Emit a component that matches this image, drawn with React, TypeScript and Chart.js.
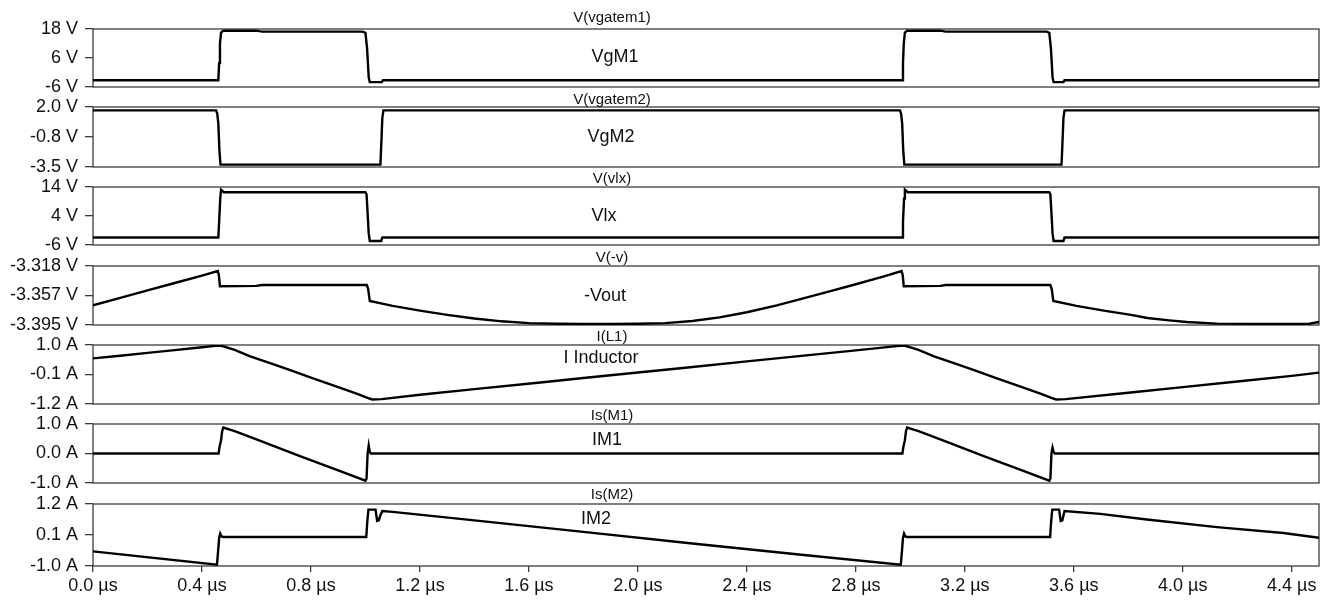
import React, { useEffect, useRef } from 'react';
import { Chart, registerables } from 'chart.js';

Chart.register(...registerables);

const FONT = '"Liberation Sans", Arial, Helvetica, sans-serif';

// ---------- data (time in µs) ----------
const vgM1Time = [0, 0.46, 0.463, 0.466, 0.47, 0.478, 0.6, 0.62, 0.99, 1.0, 1.006, 1.012, 1.016, 1.06, 1.064,
  2.97, 2.973, 2.976, 2.98, 2.988, 3.11, 3.13, 3.5, 3.51, 3.516, 3.522, 3.526, 3.562, 3.566, 4.5];
const vgM1Value = [-3.2, -3.2, 4, 12, 16.5, 17.3, 17.3, 16.9, 16.9, 16.4, 10, -2, -4.0, -4.0, -3.2,
  -3.2, 4, 12, 16.5, 17.3, 17.3, 16.9, 16.9, 16.4, 10, -2, -4.0, -4.0, -3.2, -3.2];

const vgM2Time = [0, 0.452, 0.456, 0.46, 0.464, 0.468, 1.055, 1.058, 1.062, 1.066,
  2.962, 2.966, 2.97, 2.974, 2.978, 3.555, 3.558, 3.562, 3.566, 4.5];
const vgM2Value = [1.69, 1.69, 1.4, 0.5, -2.0, -3.28, -3.28, -1.5, 1.0, 1.69,
  1.69, 1.4, 0.5, -2.0, -3.28, -3.28, -1.5, 1.0, 1.69, 1.69];

const vlxTime = [0, 0.46, 0.463, 0.467, 0.47, 0.476, 0.48, 1.0, 1.004, 1.008, 1.012, 1.016, 1.058, 1.062,
  2.97, 2.973, 2.977, 2.98, 2.986, 2.99, 3.51, 3.514, 3.518, 3.522, 3.526, 3.562, 3.566, 4.5];
const vlxValue = [-3.4, -3.4, 2, 10, 13.1, 12.6, 12.2, 12.2, 11.5, 5, -2, -4.6, -4.6, -3.4,
  -3.4, 2, 10, 13.1, 12.6, 12.2, 12.2, 11.5, 5, -2, -4.6, -4.6, -3.4, -3.4];

const voutTime = [0, 0.1, 0.2, 0.3, 0.4, 0.458, 0.462, 0.466, 0.6, 0.62, 1.005, 1.01, 1.016,
  1.1, 1.2, 1.3, 1.4, 1.5, 1.6, 1.7, 1.8, 1.9, 2.0, 2.1, 2.2, 2.3, 2.4, 2.51, 2.6, 2.7, 2.8, 2.9, 2.968,
  2.972, 2.976, 3.11, 3.13, 3.514, 3.519, 3.525, 3.61, 3.71, 3.81, 3.87, 3.95, 4.015, 4.125, 4.3, 4.465, 4.5];
const voutValue = [-3.3693, -3.3596, -3.3499, -3.3402, -3.3305, -3.3245, -3.33, -3.3445, -3.344, -3.3428, -3.3428, -3.348, -3.3637,
  -3.37, -3.3762, -3.3818, -3.3866, -3.3902, -3.3926, -3.3934, -3.3935, -3.3935, -3.3933, -3.3926, -3.3897, -3.385, -3.3784, -3.3693, -3.361, -3.3515, -3.3418, -3.3318, -3.3245,
  -3.33, -3.3445, -3.344, -3.3428, -3.3428, -3.348, -3.3637, -3.37, -3.3762, -3.3818, -3.3859, -3.389, -3.3911, -3.3932, -3.3935, -3.3933, -3.3911];

const iLTime = [0, 0.1, 0.2, 0.3, 0.4, 0.458, 0.475, 0.52, 0.577, 0.65, 0.724, 0.8, 0.9, 0.97, 1.01, 1.025, 1.06,
  1.2, 1.4, 1.642, 1.8, 2.0, 2.156, 2.4, 2.6, 2.8, 2.968, 2.985, 3.03, 3.087, 3.16, 3.234, 3.31, 3.41, 3.48, 3.52, 3.535, 3.57,
  3.8, 4.0, 4.2, 4.4, 4.5];
const iLValue = [0.5, 0.6, 0.705, 0.81, 0.915, 0.975, 0.96, 0.82, 0.58, 0.32, 0.06, -0.22, -0.57, -0.82, -0.98, -1.03, -1.02,
  -0.854, -0.647, -0.397, -0.233, -0.026, 0.135, 0.388, 0.595, 0.8, 0.975, 0.96, 0.82, 0.58, 0.32, 0.06, -0.22, -0.57, -0.82, -0.98, -1.03, -1.02,
  -0.78, -0.57, -0.36, -0.15, -0.03];

const iM1Time = [0, 0.461, 0.464, 0.47, 0.474, 0.478, 0.52, 0.6, 0.762, 0.9, 1.0, 1.004, 1.008, 1.012, 1.016, 1.02,
  2.971, 2.974, 2.98, 2.984, 2.988, 3.03, 3.11, 3.272, 3.41, 3.51, 3.514, 3.518, 3.522, 3.526, 3.53, 4.5];
const iM1Value = [0, 0, 0.2, 0.45, 0.75, 0.88, 0.76, 0.48, -0.1, -0.57, -0.92, -0.85, 0.0, 0.27, 0.05, 0,
  0, 0.2, 0.45, 0.75, 0.88, 0.76, 0.48, -0.1, -0.57, -0.92, -0.85, 0.0, 0.2, 0.05, 0, 0];

const iM2Time = [0, 0.455, 0.459, 0.463, 0.467, 0.472, 0.478, 1.003, 1.007, 1.011, 1.037, 1.043, 1.049, 1.055, 1.062,
  1.1, 1.4, 1.8, 2.2, 2.6, 2.965, 2.969, 2.973, 2.977, 2.982, 2.988, 3.513, 3.517, 3.521, 3.546, 3.552, 3.558, 3.566,
  3.697, 3.868, 4.125, 4.369, 4.5];
const iM2Value = [-0.48, -0.95, -0.5, 0.0, 0.15, 0.05, 0.03, 0.03, 0.6, 1.0, 1.0, 0.6, 0.62, 0.8, 0.95,
  0.92, 0.62, 0.21, -0.2, -0.6, -0.95, -0.5, 0.0, 0.15, 0.05, 0.03, 0.03, 0.6, 1.0, 1.0, 0.6, 0.62, 0.95,
  0.85, 0.65, 0.38, 0.17, 0.0];

const panelTitles = ['V(vgatem1)', 'V(vgatem2)', 'V(vlx)', 'V(-v)', 'I(L1)', 'Is(M1)', 'Is(M2)'];
const panelLabels = ['VgM1', 'VgM2', 'Vlx', '-Vout', 'I Inductor', 'IM1', 'IM2'];
const yMaxValues = [18, 2.0, 14, -3.318, 1.0, 1.0, 1.2];
const yMinValues = [-6, -3.5, -6, -3.395, -1.2, -1.0, -1.0];
const yTickLabels = [
  ['18 V', '6 V', '-6 V'],
  ['2.0 V', '-0.8 V', '-3.5 V'],
  ['14 V', '4 V', '-6 V'],
  ['-3.318 V', '-3.357 V', '-3.395 V'],
  ['1.0 A', '-0.1 A', '-1.2 A'],
  ['1.0 A', '0.0 A', '-1.0 A'],
  ['1.2 A', '0.1 A', '-1.0 A'],
];
const xTickValues = [0, 0.4, 0.8, 1.2, 1.6, 2.0, 2.4, 2.8, 3.2, 3.6, 4.0, 4.4];
const xTickLabels = ['0.0 µs', '0.4 µs', '0.8 µs', '1.2 µs', '1.6 µs', '2.0 µs', '2.4 µs', '2.8 µs', '3.2 µs', '3.6 µs', '4.0 µs', '4.4 µs'];

const seriesTimes = [vgM1Time, vgM2Time, vlxTime, voutTime, iLTime, iM1Time, iM2Time];
const seriesValues = [vgM1Value, vgM2Value, vlxValue, voutValue, iLValue, iM1Value, iM2Value];

// ---------- layout (page pixels) ----------
const PAGE_W = 1329;
const PLOT_LEFT = 93;
const PLOT_RIGHT = 1319;
const panelTop = [29, 107, 187, 266, 345, 424, 504];
const panelBottom = [87, 167, 245, 325, 404, 483, 566];
const titleX = 612;
const titleY = [17.5, 100, 178.5, 257.5, 336.5, 416, 495];
const labelX = [615, 611, 604, 605, 601, 607, 596];
const labelY = [57, 137, 216, 296, 358, 440, 519];
const X_AXIS_H = 36;

const framePlugin = {
  id: 'frame',
  beforeDatasetsDraw(chart: any) {
    const { ctx, chartArea } = chart;
    ctx.save();
    ctx.strokeStyle = '#3c3c3c';
    ctx.lineWidth = 1.3;
    ctx.strokeRect(chartArea.left, chartArea.top, chartArea.right - chartArea.left, chartArea.bottom - chartArea.top);
    ctx.restore();
  },
};

const textPlugin = {
  id: 'panelText',
  afterDraw(chart: any, _args: any, opts: any) {
    const ctx = chart.ctx;
    ctx.save();
    ctx.fillStyle = '#111';
    ctx.textAlign = 'center';
    ctx.textBaseline = 'middle';
    ctx.font = `15px ${FONT}`;
    ctx.fillText(opts.title, opts.titleX, opts.titleY);
    ctx.font = `18px ${FONT}`;
    ctx.fillText(opts.label, opts.labelX, opts.labelY);
    ctx.restore();
  },
};

function Panel({ idx }: { idx: number }) {
  const ref = useRef<HTMLCanvasElement>(null);
  const isLast = idx === panelTop.length - 1;
  const top = panelTop[idx];
  const bottom = panelBottom[idx];
  const canvasTop = top - 26;
  const canvasH = (bottom - canvasTop) + (isLast ? X_AXIS_H + 2 : 16);
  const padBottom = canvasH - (bottom - canvasTop) - (isLast ? X_AXIS_H : 0);

  useEffect(() => {
    if (!ref.current) return;
    const yMin = yMinValues[idx];
    const yMax = yMaxValues[idx];
    const labels = yTickLabels[idx];
    const data = seriesTimes[idx].map((t, i) => ({ x: t, y: seriesValues[idx][i] }));
    const chart = new Chart(ref.current, {
      type: 'line',
      data: {
        datasets: [
          {
            data,
            borderColor: '#000',
            borderWidth: 2.4,
            pointRadius: 0,
            tension: 0,
            fill: false,
          },
        ],
      },
      options: {
        responsive: false,
        animation: false,
        events: [],
        layout: { padding: { top: top - canvasTop, bottom: padBottom, left: 0, right: PAGE_W - PLOT_RIGHT } },
        plugins: {
          legend: { display: false },
          tooltip: { enabled: false },
          title: { display: false },
          panelText: {
            title: panelTitles[idx],
            label: panelLabels[idx],
            titleX,
            titleY: titleY[idx] - canvasTop,
            labelX: labelX[idx],
            labelY: labelY[idx] - canvasTop,
          },
        } as any,
        scales: {
          x: {
            type: 'linear',
            min: 0,
            max: 4.5,
            display: isLast,
            position: 'bottom',
            afterBuildTicks: (s: any) => {
              s.ticks = xTickValues.map((v) => ({ value: v }));
            },
            afterFit: (s: any) => {
              s.height = isLast ? X_AXIS_H : 0;
              s.paddingLeft = 0;
              s.paddingRight = 0;
            },
            ticks: {
              autoSkip: false,
              maxRotation: 0,
              padding: 3,
              color: '#111',
              font: { family: FONT, size: 18 },
              callback: (_v: any, i: number) => xTickLabels[i],
            },
            grid: { drawOnChartArea: false, drawTicks: true, tickLength: 6, color: '#3c3c3c', lineWidth: 1.3 },
            border: { display: false },
          },
          y: {
            type: 'linear',
            min: yMin,
            max: yMax,
            afterBuildTicks: (s: any) => {
              s.ticks = [{ value: yMin }, { value: (yMin + yMax) / 2 }, { value: yMax }];
            },
            afterFit: (s: any) => {
              s.width = PLOT_LEFT;
              s.paddingTop = 0;
              s.paddingBottom = 0;
            },
            ticks: {
              autoSkip: false,
              padding: 7,
              color: '#111',
              font: { family: FONT, size: 18 },
              callback: (_v: any, i: number) => labels[labels.length - 1 - i],
            },
            grid: { drawOnChartArea: false, drawTicks: true, tickLength: 8, color: '#3c3c3c', lineWidth: 1.3 },
            border: { display: false },
          },
        },
      },
      plugins: [framePlugin, textPlugin],
    } as any);
    return () => chart.destroy();
  }, [idx]);

  return (
    <canvas
      ref={ref}
      width={PAGE_W}
      height={canvasH}
      style={{ position: 'absolute', left: 0, top: canvasTop, width: PAGE_W, height: canvasH }}
    />
  );
}

export default function App() {
  return (
    <div style={{ position: 'absolute', left: 0, top: 0, width: PAGE_W, height: 602, background: '#fff', overflow: 'hidden' }}>
      {panelTitles.map((_, i) => (
        <Panel key={i} idx={i} />
      ))}
    </div>
  );
}
